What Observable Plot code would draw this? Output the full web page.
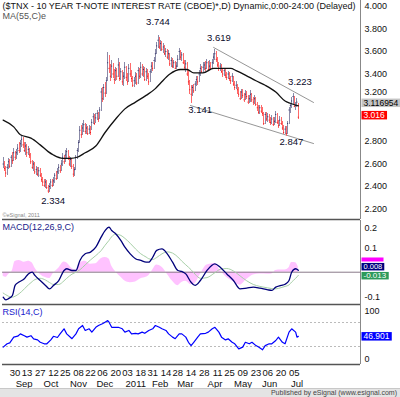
<!DOCTYPE html>
<html><head><meta charset="utf-8">
<script src="https://cdn.jsdelivr.net/npm/d3@7"></script>
<script src="https://cdn.jsdelivr.net/npm/@observablehq/plot@0.6"></script>
<style>
body{margin:0;background:#fff;}
#chart{position:relative;width:400px;height:397px;overflow:hidden;font-family:"Liberation Sans",Arial,sans-serif;background:#fff;}
#chart svg{position:absolute;left:0;overflow:visible;}
#pub{position:absolute;left:0;top:388px;width:400px;height:9px;background:#e4e4e4;border-top:1px solid #c8c8c8;box-sizing:border-box;font-size:7px;color:#444;text-align:right;line-height:8px;padding-right:3px;}
</style></head><body><div id="chart"></div>
<script>
// ---------- calendar ----------
const firstDay = "2010-08-17", lastDay = "2011-07-08";
const holidays = ["2010-09-06","2010-10-11","2010-11-11","2010-11-25","2010-12-24","2011-01-17","2011-02-21","2011-04-22","2011-05-30","2011-07-04"];
// ---------- price data (daily) ----------
const close = [2.60,2.56,2.52,2.57,2.62,2.58,2.66,2.63,2.70,2.66,
2.70,2.74,2.72,2.78,2.82,2.77,2.72,2.76,2.70,2.73,
2.68,2.62,2.57,2.60,2.53,2.55,2.51,2.54,2.50,2.46,
2.44,2.41,2.44,2.39,2.36,2.40,2.44,2.41,2.45,2.50,
2.47,2.53,2.57,2.54,2.60,2.66,2.62,2.68,2.71,2.65,
2.60,2.64,2.58,2.51,2.55,2.66,2.72,2.79,2.90,2.86,
2.92,2.95,2.89,2.92,2.87,2.91,2.88,2.97,3.02,2.96,
3.01,3.05,3.00,3.08,3.24,3.18,3.28,3.23,3.34,3.50,
3.45,3.38,3.47,3.40,3.35,3.43,3.38,3.48,3.36,3.42,
3.33,3.38,3.46,3.37,3.33,3.45,3.40,3.36,3.30,3.34,
3.38,3.32,3.43,3.38,3.46,3.40,3.44,3.35,3.42,3.38,
3.33,3.42,3.47,3.45,3.52,3.58,3.65,3.70,3.64,3.67,
3.62,3.64,3.58,3.60,3.55,3.58,3.49,3.52,3.47,3.50,
3.45,3.47,3.53,3.60,3.55,3.57,3.50,3.46,3.49,3.40,
3.33,3.26,3.22,3.28,3.25,3.31,3.35,3.33,3.40,3.45,
3.42,3.46,3.48,3.45,3.50,3.44,3.47,3.45,3.50,3.55,
3.58,3.53,3.48,3.45,3.47,3.42,3.40,3.43,3.39,3.37,
3.40,3.36,3.34,3.38,3.31,3.28,3.30,3.26,3.22,3.18,
3.24,3.21,3.17,3.22,3.20,3.15,3.18,3.22,3.17,3.15,
3.18,3.13,3.10,3.06,3.10,3.07,3.05,2.96,3.04,3.00,
3.02,2.99,2.97,3.00,2.95,2.98,3.04,2.97,2.94,2.99,
2.96,2.92,2.88,2.91,2.87,2.96,3.08,3.12,3.16,3.20,
3.11,3.12,3.15,3.016];
const high = [2.66,2.62,2.58,2.60,2.65,2.64,2.68,2.70,2.74,2.71,
2.73,2.77,2.79,2.81,2.85,2.84,2.79,2.79,2.77,2.76,
2.74,2.69,2.63,2.62,2.61,2.58,2.57,2.57,2.56,2.52,
2.48,2.46,2.46,2.45,2.41,2.43,2.46,2.46,2.48,2.52,
2.53,2.56,2.60,2.59,2.63,2.69,2.68,2.72,2.74,2.72,
2.67,2.66,2.65,2.60,2.57,2.68,2.74,2.81,2.93,2.94,
2.96,2.99,2.96,2.95,2.93,2.94,2.93,3.00,3.05,3.04,
3.05,3.08,3.06,3.10,3.27,3.28,3.31,3.32,3.37,3.59,
3.56,3.48,3.52,3.49,3.44,3.46,3.45,3.54,3.50,3.45,
3.43,3.41,3.50,3.47,3.40,3.48,3.49,3.43,3.38,3.37,
3.41,3.40,3.46,3.45,3.50,3.48,3.47,3.46,3.45,3.44,
3.40,3.44,3.50,3.50,3.55,3.62,3.68,3.744,3.72,3.70,
3.69,3.67,3.65,3.63,3.62,3.61,3.58,3.55,3.54,3.52,
3.51,3.50,3.56,3.63,3.61,3.59,3.58,3.52,3.52,3.50,
3.42,3.34,3.30,3.30,3.31,3.33,3.38,3.38,3.43,3.48,
3.47,3.50,3.50,3.51,3.53,3.51,3.52,3.50,3.53,3.58,
3.619,3.60,3.55,3.50,3.49,3.48,3.45,3.45,3.44,3.41,
3.42,3.41,3.38,3.40,3.38,3.33,3.33,3.31,3.28,3.24,
3.26,3.26,3.23,3.25,3.24,3.21,3.21,3.25,3.23,3.19,
3.21,3.19,3.15,3.12,3.12,3.12,3.10,3.06,3.06,3.06,
3.05,3.04,3.01,3.03,3.01,3.01,3.07,3.05,2.99,3.02,
3.01,2.98,2.94,2.93,2.93,2.98,3.10,3.14,3.19,3.223,
3.20,3.15,3.18,3.14];
const low = [2.56,2.53,2.48,2.50,2.55,2.56,2.57,2.60,2.62,2.63,
2.64,2.68,2.69,2.70,2.75,2.74,2.70,2.68,2.66,2.68,
2.65,2.60,2.55,2.53,2.51,2.50,2.49,2.48,2.48,2.44,
2.40,2.39,2.38,2.37,2.334,2.35,2.37,2.39,2.40,2.43,
2.45,2.46,2.51,2.52,2.53,2.58,2.60,2.61,2.65,2.63,
2.58,2.57,2.55,2.48,2.49,2.54,2.64,2.70,2.78,2.83,
2.85,2.88,2.86,2.86,2.85,2.86,2.85,2.90,2.95,2.94,
2.96,2.99,2.97,3.00,3.07,3.15,3.16,3.19,3.22,3.33,
3.40,3.33,3.36,3.36,3.31,3.33,3.34,3.37,3.33,3.34,
3.30,3.29,3.35,3.33,3.30,3.32,3.37,3.32,3.28,3.28,
3.31,3.30,3.31,3.35,3.36,3.38,3.37,3.33,3.33,3.35,
3.30,3.32,3.40,3.42,3.44,3.50,3.57,3.63,3.62,3.60,
3.60,3.58,3.56,3.55,3.53,3.52,3.47,3.46,3.45,3.45,
3.44,3.44,3.46,3.52,3.52,3.51,3.48,3.43,3.41,3.38,
3.30,3.22,3.141,3.20,3.23,3.24,3.29,3.30,3.32,3.38,
3.40,3.41,3.43,3.42,3.44,3.42,3.43,3.43,3.44,3.48,
3.52,3.50,3.46,3.42,3.42,3.40,3.37,3.38,3.36,3.34,
3.35,3.33,3.31,3.32,3.29,3.25,3.26,3.22,3.19,3.16,
3.17,3.18,3.15,3.16,3.17,3.13,3.14,3.15,3.15,3.12,
3.13,3.11,3.07,3.04,3.04,3.05,3.02,2.94,2.95,2.98,
2.97,2.96,2.94,2.95,2.93,2.94,2.96,2.95,2.92,2.93,
2.94,2.90,2.86,2.86,2.847,2.86,2.95,3.05,3.09,3.13,
3.10,3.08,3.10,3.00];
// MA(55) read at trading-day positions
const maDay = [0,8,13,21,28,34,38,45,51,56,62,70,77,85,92,100,108,115,119,126,134,139,144,151,159,164,172,176,183,191,198,206,213,217,223];
const maVal = [2.99,2.93,2.86,2.83,2.77,2.71,2.68,2.65,2.65,2.66,2.70,2.76,2.88,3.00,3.09,3.15,3.21,3.27,3.32,3.40,3.44,3.44,3.41,3.41,3.45,3.45,3.45,3.43,3.39,3.34,3.30,3.24,3.16,3.14,3.117];
// annotations
const annDay = [117,160,142,219,214,34];
const annPrice = [3.744,3.619,3.141,3.223,2.847,2.334];
const annText = ["3.744","3.619","3.141","3.223","2.847","2.334"];
// channel lines
const upperDay = [159,234.5], upperPrice = [3.636,3.147];
const lowerDay = [141.5,234.5], lowerPrice = [3.12,2.782];
// right-axis labels (3.000 is hidden behind the value tags)
const priceTicks = [2.2,2.4,2.6,2.8,3.4,3.6,3.8,4.0], priceTickHigh = [3.2];
const lastMA = 3.116954, lastClose = 3.016;
// MACD(12,26,9)
const macdDay = [0,2,4,7,9,12,16,19,22,24,28,32,35,38,42,46,48,52,55,58,62,66,70,74,77,80,82,85,89,92,96,100,104,108,110,113,116,120,124,128,132,135,138,142,145,149,154,160,164,169,174,179,184,189,194,200,203,206,210,213,216,218,221,223];
const macdVal = [-0.102,-0.113,-0.108,-0.095,-0.054,-0.040,-0.027,-0.007,0.000,-0.013,-0.034,-0.054,-0.068,-0.054,-0.034,0.007,0.014,0.007,0.007,0.048,0.075,0.082,0.102,0.143,0.170,0.184,0.170,0.157,0.129,0.102,0.075,0.055,0.048,0.041,0.041,0.061,0.089,0.095,0.075,0.041,0.007,0.003,-0.007,-0.041,-0.054,-0.034,0.007,0.034,0.020,-0.007,-0.034,-0.068,-0.065,-0.061,-0.065,-0.072,-0.074,-0.061,-0.054,-0.049,-0.034,0.000,0.014,0.008];
const signalVal = [-0.085,-0.092,-0.098,-0.102,-0.098,-0.088,-0.068,-0.052,-0.038,-0.030,-0.025,-0.032,-0.042,-0.050,-0.050,-0.035,-0.025,-0.008,0.000,0.010,0.030,0.050,0.068,0.088,0.110,0.130,0.145,0.155,0.150,0.138,0.118,0.095,0.075,0.062,0.055,0.052,0.060,0.075,0.083,0.078,0.062,0.045,0.030,0.010,-0.008,-0.025,-0.022,-0.002,0.012,0.015,0.005,-0.015,-0.035,-0.050,-0.058,-0.064,-0.067,-0.068,-0.063,-0.058,-0.052,-0.040,-0.025,-0.013];
const macdTicks = [0.1,-0.1], macdTopTick = [0.2];
const lastMacd = 0.008, lastSignal = -0.013, lastHist = 0.021;
// RSI(14)
const rsiDay = [0,3,5,8,11,13,16,18,21,23,26,28,31,33,36,38,41,43,46,48,51,52,55,57,60,62,65,67,70,72,75,77,79,80,82,85,87,90,92,95,97,100,102,105,107,110,113,115,118,120,123,125,128,130,133,135,138,140,142,144,147,149,153,155,158,160,163,165,168,170,173,175,178,181,183,186,188,191,193,196,198,201,203,206,208,211,213,216,218,221,222,223];
const rsiVal = [28.9,34.5,36,45.6,47.2,51,48,45.6,48,42.8,41,37,34.5,34.5,41,47,45,51,59.5,51,45,43,51,59.5,65,56.7,59.5,54,62,65,67.8,70.5,73.3,70.5,62,62,62,59.5,54,56.7,51,52,51,54,52,56.7,59.5,65,62,59.5,56.7,51,45.6,43,51,51,45.6,37,31.5,37,45.6,51,52,54,59.5,62,54,45.6,41,42.8,37,34.5,26,29,37,34.5,37,31.5,29,24.5,31.5,34.5,34.5,40,45.6,37,34.5,54,59.5,54,45.6,46.9];
const lastRsi = 46.901;
// x-axis labels
const tickDates = ["2010-08-30","2010-09-13","2010-09-27","2010-10-12","2010-10-25","2010-11-08","2010-11-22","2010-12-06","2010-12-20","2011-01-03","2011-01-18","2011-01-31","2011-02-14","2011-02-28","2011-03-14","2011-03-28","2011-04-11","2011-04-25","2011-05-09","2011-05-23","2011-06-06","2011-06-20","2011-07-05"];
const tickLabels = ["30","13","27","12","25","08","22","06","20","03","18","31","14","28","14","28","11","25","09","23","06","20","05"];
const monthDates = ["2010-09-01","2010-10-01","2010-11-01","2010-12-01","2011-01-03","2011-02-01","2011-03-01","2011-04-01","2011-05-02","2011-06-01","2011-07-01"];
const monthLabels = ["Sep","Oct","Nov","Dec","2011","Feb","Mar","Apr","May","Jun","Jul"];

// ---------- build ----------
const days = [];
for (let d = new Date(firstDay + "T00:00Z"); d <= new Date(lastDay + "T00:00Z"); d.setUTCDate(d.getUTCDate() + 1)) {
  const s = d.toISOString().slice(0, 10), wd = d.getUTCDay();
  if (wd > 0 && wd < 6 && !holidays.includes(s)) days.push(s);
}
const dayIndex = s => days.indexOf(s);
const bars = close.map((c, i) => ({i, c, h: high[i], l: low[i], up: i === 0 || c >= close[i - 1]}));
const ma = maDay.map((d, k) => ({d, v: maVal[k]}));
const ann = annDay.map((d, k) => ({d, p: annPrice[k], t: annText[k]}));
const annOffset = [[0,-13],[4,-11],[9,7],[7,-12],[5,6],[5,7]];
const macd = macdDay.map((d, k) => ({d, m: macdVal[k], s: signalVal[k], h: macdVal[k] - signalVal[k]}));
const rsi = rsiDay.map((d, k) => ({d, v: rsiVal[k]}));
const xDomain = [-0.5, 270];
const font = "'Liberation Sans', Arial, sans-serif";
const UP = "#8a8aa8", DOWN = "#ff6a6a";
const tag = (v, fmt, dy, fill, name, size = 8.5) => Plot.text([v], {y: d => d, text: fmt, frameAnchor: "right", textAnchor: "start", dx: 3, dy, fill, fontSize: size, ariaDescription: name});

const price = Plot.plot({
  width: 400, height: 220, marginLeft: 2, marginRight: 40, marginTop: 0, marginBottom: 1,
  x: {domain: xDomain, axis: null, label: null},
  y: {domain: [2.1067, 4.0533], label: null},
  style: {fontFamily: font, fontSize: "9px", overflow: "visible", background: "transparent"},
  marks: [
    Plot.axisY(priceTicks, {anchor: "right", tickSize: 0, tickPadding: 4, tickFormat: d3.format(".3f"), fill: "#111", label: null}),
    Plot.axisY(priceTickHigh, {anchor: "right", tickSize: 0, tickPadding: 4, dy: -4, tickFormat: d3.format(".3f"), fill: "#111", label: null}),
    Plot.line(upperDay.map((d, k) => ({d, p: upperPrice[k]})), {x: "d", y: "p", stroke: "#8a8a8a", strokeWidth: 0.9}),
    Plot.line(lowerDay.map((d, k) => ({d, p: lowerPrice[k]})), {x: "d", y: "p", stroke: "#8a8a8a", strokeWidth: 0.9}),
    Plot.ruleX(bars, {x: "i", y1: "l", y2: "h", stroke: d => d.up ? UP : DOWN, strokeWidth: 1, shapeRendering: "crispEdges"}),
    Plot.ruleY(bars, {y: "c", x1: "i", x2: d => d.i + 0.7, stroke: d => d.up ? "#2a2a66" : "#e81818", strokeWidth: 1}),
    Plot.line(ma, {x: "d", y: "v", stroke: "#111", strokeWidth: 1.3, curve: "monotone-x"}),
    ...ann.map((a, k) => Plot.text([a], {x: "d", y: "p", text: "t", dx: annOffset[k][0], dy: annOffset[k][1], fill: "#0a0a2a", fontSize: 9.5})),
    Plot.text(["($TNX - 10 YEAR T-NOTE INTEREST RATE (CBOE)*,D) Dynamic,0:00-24:00 (Delayed)"], {frameAnchor: "top-left", dy: 2, fill: "#111", fontSize: 9}),
    Plot.text(["MA(55,C)e"], {frameAnchor: "top-left", dy: 12, fill: "#555", fontSize: 9}),
    Plot.text(["\u00a9eSignal, 2011"], {frameAnchor: "bottom-left", dy: -3, fill: "#888", fontSize: 5.5}),
    Plot.ruleX([xDomain[1]], {stroke: "#888"}),
    Plot.ruleY([2.1067], {stroke: "#555", strokeWidth: 1.5}),
    tag(lastMA, d => String(d), -3, "#000", "tag-gray"),
    tag(lastClose, d => d.toFixed(3), -2, "#fff", "tag-red")
  ]
});

const macdPlot = Plot.plot({
  width: 400, height: 84, marginLeft: 2, marginRight: 40, marginTop: 0, marginBottom: 0,
  x: {domain: xDomain, axis: null, label: null},
  y: {domain: [-0.1318, 0.211], label: null},
  style: {fontFamily: font, fontSize: "9px", overflow: "visible", background: "transparent"},
  marks: [
    Plot.axisY(macdTicks, {anchor: "right", tickSize: 0, tickPadding: 4, tickFormat: d => String(d), fill: "#111", label: null}),
    Plot.axisY(macdTopTick, {anchor: "right", tickSize: 0, tickPadding: 4, dy: 5, tickFormat: d => String(d), fill: "#111", label: null}),
    Plot.areaY(macd, {x: "d", y: "h", fill: "#ff99ff", fillOpacity: 0.6, curve: "monotone-x"}),
    Plot.ruleY([0], {stroke: "#8a7a8a"}),
    Plot.line(macd, {x: "d", y: "s", stroke: "#a8d0a8", strokeWidth: 1, curve: "monotone-x"}),
    Plot.line(macd, {x: "d", y: "m", stroke: "#00007a", strokeWidth: 1.3, curve: "monotone-x"}),
    Plot.text(["MACD(12,26,9,C)"], {frameAnchor: "top-left", dy: 3, fill: "#1a1a8a", fontSize: 9}),
    Plot.ruleX([xDomain[1]], {stroke: "#888"}),
    Plot.ruleY([-0.1318], {stroke: "#555", strokeWidth: 1.5}),
    tag(lastHist, d => d.toFixed(3), -7.6, "#ff00ff", "tag-mag", 4),
    tag(lastMacd, d => d.toFixed(3), -3.7, "#fff", "tag-navy", 7.5),
    tag(lastSignal, d => d.toFixed(3), 0, "#fff", "tag-green", 8)
  ]
});

const tickIdx = tickDates.map(dayIndex);
const tickMap = new Map(tickIdx.map((d, k) => [d, tickLabels[k]]));
const monthIdx = monthDates.map(dayIndex);
const monthMap = new Map(monthIdx.map((d, k) => [d, monthLabels[k]]));

const rsiPlot = Plot.plot({
  width: 400, height: 90, marginLeft: 2, marginRight: 40, marginTop: 0, marginBottom: 30,
  x: {domain: xDomain, label: null},
  y: {domain: [0, 100], label: null},
  style: {fontFamily: font, fontSize: "9px", overflow: "visible", background: "transparent"},
  marks: [
    Plot.axisY([100], {anchor: "right", tickSize: 0, tickPadding: 4, dy: 7, fill: "#111", label: null}),
    Plot.axisY([0], {anchor: "right", tickSize: 0, tickPadding: 4, dy: -5, fill: "#111", label: null}),
    Plot.axisX(tickIdx, {anchor: "bottom", tickSize: 0, tickPadding: 5, tickFormat: d => tickMap.get(d), fill: "#111", fontSize: 9.5, label: null}),
    Plot.axisX(monthIdx, {anchor: "bottom", tickSize: 0, tickPadding: 16, textAnchor: "start", dx: -2, tickFormat: d => monthMap.get(d), fill: "#111", fontSize: 9.5, label: null}),
    Plot.ruleY([70, 30], {stroke: "#bbb", strokeDasharray: "2,2"}),
    Plot.line(rsi, {x: "d", y: "v", stroke: "#0000ff", strokeWidth: 1.2}),
    Plot.text(["RSI(14,C)"], {frameAnchor: "top-left", dy: 4, fill: "#1a1acc", fontSize: 9}),
    Plot.ruleX([xDomain[1]], {stroke: "#888"}),
    Plot.ruleY([0], {stroke: "#555", strokeWidth: 1.5}),
    tag(lastRsi, d => d.toFixed(3), 0, "#fff", "tag-blue")
  ]
});

const chart = document.getElementById("chart");
price.style.top = "0px"; macdPlot.style.top = "220px"; rsiPlot.style.top = "304px";
chart.append(price, macdPlot, rsiPlot);
const pub = document.createElement("div");
pub.id = "pub"; pub.textContent = "Published by eSignal (www.esignal.com)";
chart.append(pub);

function box(svg, name, bg, minH = 0) {
  d3.select(svg).selectAll(`g[aria-description="${name}"] text`).each(function () {
    const b = this.getBBox();
    const h = Math.max(minH, b.height - 1.5);
    const r = document.createElementNS("http://www.w3.org/2000/svg", "rect");
    r.setAttribute("x", b.x - 2); r.setAttribute("y", b.y + 1 - (h - (b.height - 1.5)) / 2);
    r.setAttribute("width", Math.max(b.width + 4, minH ? 22 : 0)); r.setAttribute("height", h);
    const t = this.getAttribute("transform"); if (t) r.setAttribute("transform", t);
    r.setAttribute("fill", bg);
    this.parentNode.insertBefore(r, this);
  });
}
box(price, "tag-gray", "#c4c4c4");
box(price, "tag-red", "#ff0000");
box(macdPlot, "tag-mag", "#ff00ff", 4);
box(macdPlot, "tag-navy", "#000080");
box(macdPlot, "tag-green", "#2e9a5a");
box(rsiPlot, "tag-blue", "#0000ff");
</script></body></html>
